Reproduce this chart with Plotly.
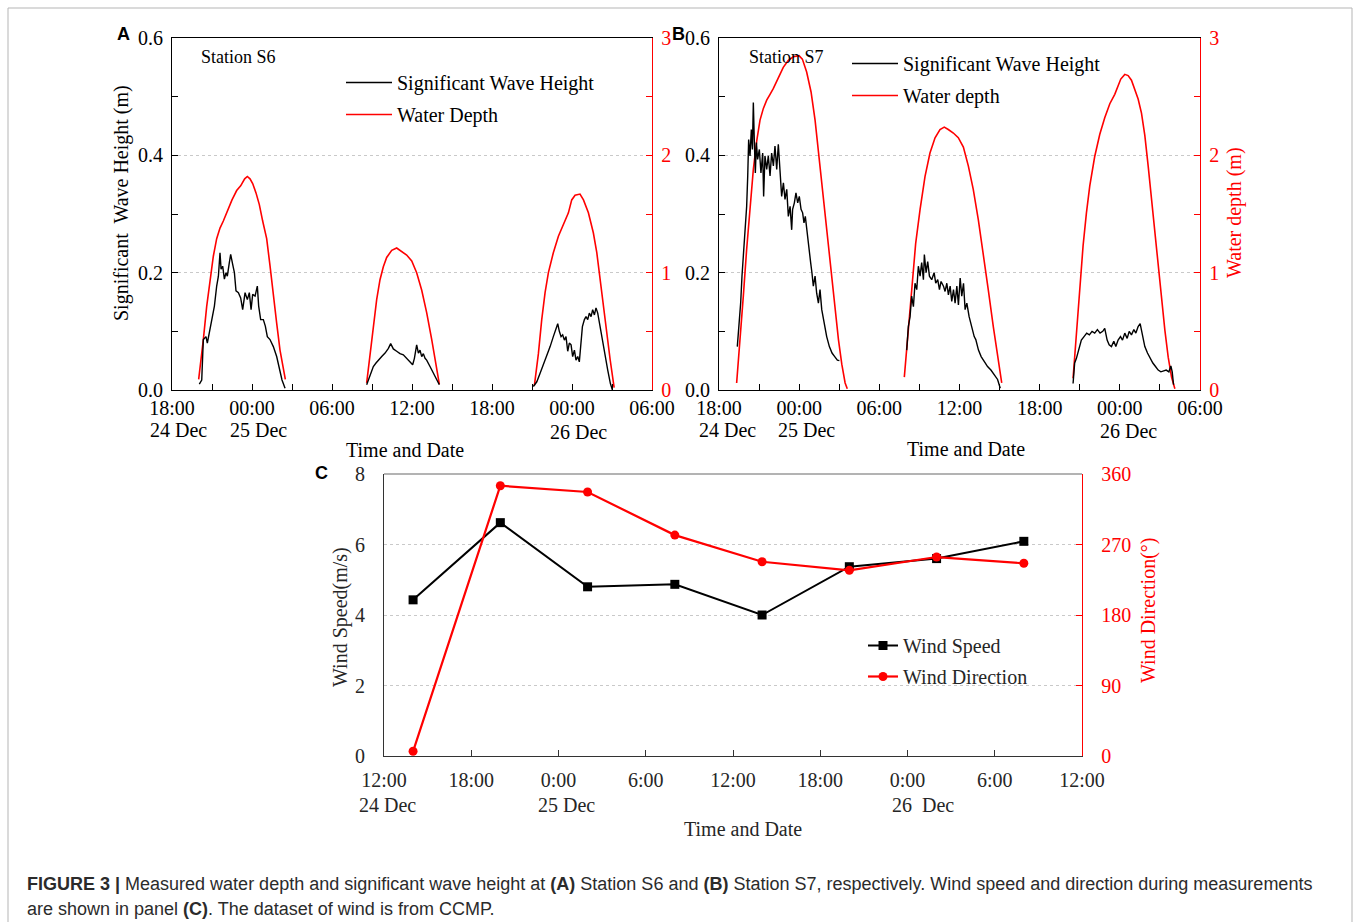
import plotly.graph_objects as go

W, H = 1360, 922


def fx(px):
    return px / W


def fy(py):
    return 1 - py / H


SERIF = "Liberation Serif"
SANS = "Liberation Sans"
RED = "#ff0000"

# ---- Station S6 (hours after 18:00, 24 Dec) ----
s6_wave_hours = [
    [2.05, 2.23, 2.35, 2.55, 2.65, 2.80, 2.98, 3.18, 3.35, 3.48, 3.60, 3.68, 3.80, 3.93,
     4.05, 4.15, 4.30, 4.40, 4.55, 4.68, 4.80, 4.98, 5.15, 5.30, 5.48, 5.65, 5.80, 5.93,
     6.05, 6.23, 6.40, 6.50, 6.65, 6.85, 7.00, 7.15, 7.35, 7.60, 7.85, 8.05, 8.25, 8.48],
    [14.6, 14.85, 15.1, 15.3, 15.47, 15.73, 15.98, 16.23, 16.4, 16.6, 16.85, 17.1, 17.35,
     17.6, 17.85, 18.05, 18.18, 18.35, 18.48, 18.6, 18.73, 18.85, 18.98, 19.1, 19.35,
     19.6, 19.85, 20.05],
    [27.1, 27.36, 27.6, 27.86, 28.1, 28.36, 28.6, 28.78, 28.93, 29.05, 29.18, 29.3, 29.43,
     29.55, 29.68, 29.8, 29.93, 30.05, 30.18, 30.3, 30.43, 30.55, 30.68, 30.78, 30.93,
     31.05, 31.18, 31.3, 31.43, 31.55, 31.68, 31.8, 31.93, 32.1, 32.28, 32.48, 32.68,
     32.88, 33.03],
]
s6_wave_height = [
    [0.010, 0.017, 0.086, 0.091, 0.080, 0.097, 0.120, 0.143, 0.177, 0.194, 0.234, 0.206,
     0.211, 0.189, 0.200, 0.194, 0.217, 0.231, 0.214, 0.200, 0.169, 0.166, 0.157, 0.137,
     0.166, 0.154, 0.166, 0.137, 0.163, 0.160, 0.177, 0.143, 0.120, 0.120, 0.109, 0.091,
     0.086, 0.074, 0.057, 0.034, 0.017, 0.003],
    [0.009, 0.023, 0.040, 0.046, 0.051, 0.057, 0.063, 0.071, 0.079, 0.070, 0.066, 0.062,
     0.060, 0.054, 0.048, 0.043, 0.054, 0.077, 0.063, 0.068, 0.057, 0.062, 0.054, 0.051,
     0.040, 0.029, 0.017, 0.009],
    [0.006, 0.014, 0.028, 0.043, 0.057, 0.074, 0.091, 0.103, 0.113, 0.100, 0.091, 0.094,
     0.085, 0.091, 0.066, 0.080, 0.077, 0.057, 0.068, 0.051, 0.057, 0.048, 0.080, 0.108,
     0.120, 0.125, 0.120, 0.131, 0.125, 0.137, 0.128, 0.140, 0.131, 0.108, 0.091, 0.063,
     0.034, 0.011, 0.0],
]
s6_depth_hours = [
    [2.0, 2.15, 2.35, 2.6, 2.85, 3.1, 3.35, 3.6, 3.85, 4.15, 4.5, 4.85, 5.15, 5.45, 5.65,
     5.85, 6.05, 6.3, 6.55, 6.8, 7.1, 7.35, 7.6, 7.85, 8.1, 8.35, 8.5],
    [14.6, 14.85, 15.1, 15.35, 15.6, 15.85, 16.1, 16.48, 16.85, 17.23, 17.6, 17.98, 18.35,
     18.73, 19.1, 19.48, 19.8, 20.05],
    [27.18, 27.48, 27.73, 27.98, 28.23, 28.6, 28.98, 29.35, 29.73, 29.98, 30.23, 30.6,
     30.86, 31.23, 31.6, 31.86, 32.1, 32.36, 32.6, 32.86, 33.16],
]
s6_depth = [
    [0.09, 0.23, 0.43, 0.71, 0.94, 1.14, 1.29, 1.38, 1.44, 1.53, 1.62, 1.70, 1.74, 1.80,
     1.82, 1.80, 1.76, 1.68, 1.58, 1.44, 1.29, 1.06, 0.80, 0.57, 0.34, 0.17, 0.09],
    [0.06, 0.28, 0.54, 0.77, 0.94, 1.05, 1.13, 1.19, 1.21, 1.18, 1.15, 1.10, 1.00, 0.85,
     0.66, 0.43, 0.23, 0.05],
    [0.04, 0.31, 0.60, 0.83, 1.00, 1.17, 1.31, 1.41, 1.51, 1.62, 1.66, 1.67, 1.62, 1.51,
     1.34, 1.17, 0.94, 0.71, 0.48, 0.26, 0.02],
]

# ---- Station S7 (hours after 18:00, 24 Dec) ----
s7_wave_hours = [
    [1.37, 1.52, 1.62, 1.72, 1.82, 1.87, 1.97, 2.07, 2.15, 2.22, 2.32, 2.42, 2.5, 2.57,
     2.64, 2.72, 2.8, 2.89, 3.02, 3.14, 3.27, 3.34, 3.44, 3.57, 3.69, 3.82, 3.94, 4.07,
     4.19, 4.32, 4.44, 4.57, 4.69, 4.82, 4.94, 5.07, 5.19, 5.32, 5.44, 5.51, 5.64, 5.76,
     5.89, 6.01, 6.14, 6.26, 6.36, 6.46, 6.56, 6.66, 6.76, 6.86, 6.96, 7.06, 7.19, 7.31,
     7.44, 7.56, 7.69, 7.81, 7.93, 8.06, 8.26, 8.46, 8.66, 8.86, 9.01],
    [14.05, 14.17, 14.3, 14.42, 14.55, 14.67, 14.8, 14.92, 15.05, 15.17, 15.3, 15.37,
     15.5, 15.62, 15.75, 15.92, 16.1, 16.22, 16.37, 16.5, 16.62, 16.8, 16.92, 17.05,
     17.17, 17.3, 17.42, 17.55, 17.67, 17.8, 17.92, 18.05, 18.17, 18.3, 18.42, 18.55,
     18.72, 18.92, 19.1, 19.22, 19.42, 19.62, 19.85, 20.1, 20.35, 20.6, 20.85, 21.05],
    [26.5, 26.62, 26.75, 26.92, 27.12, 27.32, 27.52, 27.72, 27.92, 28.12, 28.32, 28.52,
     28.72, 28.87, 29.05, 29.2, 29.37, 29.55, 29.7, 29.87, 30.05, 30.2, 30.37, 30.55,
     30.7, 30.87, 31.05, 31.2, 31.37, 31.52, 31.67, 31.87, 32.07, 32.27, 32.47, 32.67,
     32.87, 33.07, 33.27, 33.47, 33.67, 33.82, 33.92, 34.02],
]
s7_wave_height = [
    [0.074, 0.114, 0.148, 0.194, 0.228, 0.245, 0.273, 0.313, 0.365, 0.427, 0.399, 0.444,
     0.410, 0.490, 0.427, 0.370, 0.422, 0.393, 0.410, 0.370, 0.404, 0.330, 0.399, 0.376,
     0.399, 0.365, 0.404, 0.382, 0.416, 0.376, 0.419, 0.370, 0.330, 0.353, 0.325, 0.342,
     0.296, 0.313, 0.273, 0.308, 0.319, 0.336, 0.319, 0.330, 0.308, 0.302, 0.285, 0.296,
     0.273, 0.251, 0.239, 0.217, 0.199, 0.177, 0.194, 0.165, 0.148, 0.171, 0.137, 0.120,
     0.108, 0.091, 0.074, 0.063, 0.057, 0.051, 0.050],
    [0.068, 0.108, 0.125, 0.160, 0.142, 0.182, 0.171, 0.211, 0.194, 0.217, 0.188, 0.231,
     0.200, 0.219, 0.194, 0.188, 0.200, 0.182, 0.188, 0.171, 0.185, 0.177, 0.168, 0.182,
     0.162, 0.177, 0.151, 0.171, 0.148, 0.177, 0.145, 0.191, 0.160, 0.182, 0.137, 0.148,
     0.125, 0.108, 0.091, 0.086, 0.068, 0.057, 0.048, 0.040, 0.034, 0.026, 0.018, 0.003],
    [0.011, 0.046, 0.054, 0.068, 0.085, 0.091, 0.097, 0.094, 0.100, 0.097, 0.103, 0.097,
     0.100, 0.105, 0.085, 0.077, 0.074, 0.083, 0.074, 0.085, 0.091, 0.085, 0.097, 0.088,
     0.100, 0.094, 0.103, 0.097, 0.108, 0.113, 0.097, 0.074, 0.063, 0.054, 0.046, 0.040,
     0.034, 0.031, 0.033, 0.034, 0.031, 0.041, 0.031, 0.009],
]
s7_depth_hours = [
    [1.32, 1.57, 1.82, 2.07, 2.32, 2.57, 2.82, 3.07, 3.32, 3.57, 3.82, 4.07, 4.44, 4.81,
     5.19, 5.56, 5.99, 6.24, 6.56, 6.89, 7.19, 7.44, 7.69, 7.94, 8.19, 8.44, 8.69, 8.94,
     9.19, 9.44, 9.6],
    [13.87, 14.12, 14.42, 14.72, 15.05, 15.42, 15.79, 16.17, 16.54, 16.86, 17.16, 17.54,
     17.91, 18.29, 18.66, 19.03, 19.41, 19.78, 20.16, 20.53, 20.86, 21.16],
    [26.5, 26.75, 27.0, 27.25, 27.5, 27.75, 28.12, 28.5, 28.87, 29.25, 29.62, 29.82,
     30.07, 30.37, 30.62, 30.87, 31.12, 31.37, 31.62, 31.87, 32.12, 32.37, 32.62, 32.87,
     33.12, 33.37, 33.62, 33.87, 34.12],
]
s7_depth = [
    [0.06, 0.40, 0.80, 1.20, 1.57, 1.88, 2.12, 2.30, 2.40, 2.47, 2.52, 2.57, 2.66, 2.75,
     2.81, 2.84, 2.85, 2.82, 2.71, 2.54, 2.30, 2.03, 1.76, 1.50, 1.22, 0.95, 0.68, 0.43,
     0.22, 0.06, 0.01],
    [0.11, 0.46, 0.88, 1.25, 1.54, 1.82, 2.02, 2.15, 2.22, 2.24, 2.22, 2.19, 2.15, 2.07,
     1.91, 1.71, 1.45, 1.17, 0.85, 0.54, 0.28, 0.06],
    [0.10, 0.46, 0.88, 1.23, 1.51, 1.74, 1.99, 2.18, 2.32, 2.44, 2.52, 2.58, 2.65, 2.69,
     2.68, 2.64, 2.56, 2.48, 2.36, 2.17, 1.91, 1.62, 1.34, 1.05, 0.77, 0.51, 0.28, 0.11,
     0.01],
]

# ---- CCMP wind (hours after 00:00, 24 Dec) ----
wind_hours = [14, 20, 26, 32, 38, 44, 50, 56]
wind_speed = [4.43, 6.62, 4.80, 4.87, 4.00, 5.37, 5.60, 6.09]
wind_direction = [6, 345, 337, 282, 248, 237, 254, 246]

# tick labels
tide_tick_hours = [18, 24, 30, 36, 42, 48, 54]
tide_tick_text = ["18:00", "00:00", "06:00", "12:00", "18:00", "00:00", "06:00"]
wind_tick_hours = [12, 18, 24, 30, 36, 42, 48, 54, 60]
wind_tick_text = ["12:00", "18:00", "0:00", "6:00", "12:00", "18:00", "0:00", "6:00", "12:00"]

START_OFFSET = 18  # station records count hours from 18:00 on 24 Dec

fig = go.Figure()


def add_station(wave_t, wave_v, depth_t, depth_v, xa, ya_depth, ya_wave, legend, depth_name):
    for i, (t, d) in enumerate(zip(depth_t, depth_v)):
        fig.add_trace(go.Scatter(
            x=[h + START_OFFSET for h in t], y=d, mode="lines",
            line=dict(color=RED, width=1.6), name=depth_name,
            xaxis=xa, yaxis=ya_depth, legend=legend, legendgroup=legend + "d",
            legendrank=2, showlegend=(i == 0)))
    for i, (t, v) in enumerate(zip(wave_t, wave_v)):
        fig.add_trace(go.Scatter(
            x=[h + START_OFFSET for h in t], y=v, mode="lines",
            line=dict(color="black", width=1.4), name="Significant Wave Height",
            xaxis=xa, yaxis=ya_wave, legend=legend, legendgroup=legend + "w",
            legendrank=1, showlegend=(i == 0)))


add_station(s6_wave_hours, s6_wave_height, s6_depth_hours, s6_depth,
            "x", "y", "y2", "legend", "Water Depth")
add_station(s7_wave_hours, s7_wave_height, s7_depth_hours, s7_depth,
            "x2", "y3", "y4", "legend2", "Water depth")

fig.add_trace(go.Scatter(
    x=wind_hours, y=wind_speed, mode="lines+markers", name="Wind Speed",
    line=dict(color="black", width=2), marker=dict(symbol="square", size=9, color="black"),
    xaxis="x3", yaxis="y5", legend="legend3", legendgroup="ws"))
fig.add_trace(go.Scatter(
    x=wind_hours, y=wind_direction, mode="lines+markers", name="Wind Direction",
    line=dict(color=RED, width=2.2), marker=dict(symbol="circle", size=9, color=RED),
    xaxis="x3", yaxis="y6", legend="legend3", legendgroup="wd"))

tick_font = dict(family=SERIF, size=20, color="black")
red_font = dict(family=SERIF, size=20, color=RED)
grid = dict(showgrid=True, gridcolor="#c9c9c9", griddash="dot", gridwidth=1)

top_ab, bot_ab = fy(38), fy(390)


def tide_xaxis(x0, x1, anchor):
    return dict(domain=[fx(x0), fx(x1)], range=[18, 54], anchor=anchor,
                tickmode="array", tickvals=tide_tick_hours, ticktext=tide_tick_text,
                ticks="inside", ticklen=6, tickcolor="black",
                minor=dict(dtick=3, tick0=18, ticks="inside", ticklen=6, tickcolor="black"),
                showline=True, linecolor="black", linewidth=1.2, mirror=True,
                showgrid=False, zeroline=False, tickfont=tick_font, automargin=False)


def depth_yaxis(anchor):
    return dict(domain=[bot_ab, top_ab], range=[0, 3], anchor=anchor, side="right",
                tickmode="array", tickvals=[0, 1, 2, 3], ticktext=["0", "1", "2", "3"],
                ticks="inside", ticklen=6, tickcolor=RED,
                minor=dict(dtick=0.5, ticks="inside", ticklen=6, tickcolor=RED),
                showline=True, linecolor=RED, linewidth=1.4, zeroline=False,
                tickfont=red_font, ticklabelstandoff=4, automargin=False, **grid)


def wave_yaxis(over, anchor):
    return dict(overlaying=over, anchor=anchor, side="left", range=[0, 0.6],
                tickmode="array", tickvals=[0, 0.2, 0.4, 0.6],
                ticktext=["0.0", "0.2", "0.4", "0.6"],
                ticks="inside", ticklen=6, tickcolor="black",
                minor=dict(dtick=0.1, ticks="inside", ticklen=6, tickcolor="black"),
                showline=True, linecolor="black", linewidth=1.2, zeroline=False,
                showgrid=False, tickfont=tick_font, ticklabelstandoff=4, automargin=False)


c_font = dict(family=SERIF, size=20, color="#262626")
c_red = dict(family=SERIF, size=20, color=RED)

fig.update_layout(
    width=W, height=H, autosize=False,
    margin=dict(l=0, r=0, t=0, b=0, pad=0, autoexpand=False),
    paper_bgcolor="white", plot_bgcolor="white",
    font=dict(family=SERIF, color="black"),
    xaxis=tide_xaxis(172, 652, "y"),
    yaxis=depth_yaxis("x"),
    yaxis2=wave_yaxis("y", "x"),
    xaxis2=tide_xaxis(719, 1200, "y3"),
    yaxis3=depth_yaxis("x2"),
    yaxis4=wave_yaxis("y3", "x2"),
    xaxis3=dict(domain=[fx(384), fx(1082)], range=[12, 60], anchor="y5",
                tickmode="array", tickvals=wind_tick_hours, ticktext=wind_tick_text,
                ticks="inside", ticklen=6, tickcolor="#333",
                showline=True, linecolor="#333", linewidth=1.2, automargin=False,
                showgrid=False, zeroline=False, tickfont=c_font, ticklabelstandoff=6),
    yaxis5=dict(domain=[fy(756), fy(474)], range=[0, 8], anchor="x3",
                tickmode="array", tickvals=[0, 2, 4, 6, 8], automargin=False,
                ticks="", showline=True, linecolor="#333", linewidth=1.2,
                zeroline=False, tickfont=c_font, ticklabelstandoff=14, **grid),
    yaxis6=dict(overlaying="y5", anchor="x3", side="right", range=[0, 360],
                tickmode="array", tickvals=[0, 90, 180, 270, 360], automargin=False,
                ticks="inside", ticklen=6, tickcolor=RED,
                showline=True, linecolor=RED, linewidth=1.4, zeroline=False,
                showgrid=False, tickfont=c_red, ticklabelstandoff=14),
    legend=dict(x=fx(341), y=fy(63), xanchor="left", yanchor="top",
                bgcolor="rgba(0,0,0,0)", font=dict(family=SERIF, size=20, color="black"),
                traceorder="grouped", tracegroupgap=3, itemwidth=46),
    legend2=dict(x=fx(847), y=fy(44), xanchor="left", yanchor="top",
                 bgcolor="rgba(0,0,0,0)", font=dict(family=SERIF, size=20, color="black"),
                 traceorder="grouped", tracegroupgap=3, itemwidth=46),
    legend3=dict(x=fx(863), y=fy(626), xanchor="left", yanchor="top",
                 bgcolor="rgba(0,0,0,0)", font=dict(family=SERIF, size=20, color="#262626"),
                 traceorder="grouped", tracegroupgap=2, itemwidth=30),
)

# top edge of the wind panel and the outer figure frame
fig.add_shape(type="line", xref="paper", yref="paper", x0=fx(384), x1=fx(1082),
              y0=fy(474), y1=fy(474), line=dict(color="#9a9a9a", width=1.5))
fig.add_shape(type="rect", xref="paper", yref="paper", x0=fx(8), x1=fx(1352),
              y0=fy(940), y1=fy(8), line=dict(color="#b5b5b5", width=1))


def note(text, x, y, size=20, color="black", family=SERIF, angle=0, xanchor="center"):
    fig.add_annotation(text=text, x=fx(x), y=fy(y), xref="paper", yref="paper",
                       showarrow=False, xanchor=xanchor, yanchor="middle",
                       textangle=angle, font=dict(family=family, size=size, color=color))


# panel letters and station names
note("<b>A</b>", 123, 34, size=18, family=SANS)
note("<b>B</b>", 678, 34, size=18, family=SANS)
note("<b>C</b>", 321, 473, size=18, family=SANS)
note("Station S6", 199, 57, size=18, xanchor="left")
note("Station S7", 747, 57, size=18, xanchor="left")

# axis titles
note("Significant  Wave Height (m)", 122, 203, angle=-90)
note("Water depth (m)", 1234, 213, color=RED, angle=-90)
note("Time and Date", 405, 450)
note("Time and Date", 966, 449)
note("Wind Speed(m/s)", 340, 617, color="#262626", angle=-90)
note("Wind Direction(°)", 1148, 611, color=RED, angle=-90)
note("Time and Date", 743, 829, color="#262626")

# date lines under the clock ticks
for label, x, y in [("24 Dec", 178, 430), ("25 Dec", 258, 430), ("26 Dec", 578, 432),
                    ("24 Dec", 727, 430), ("25 Dec", 806, 430), ("26 Dec", 1128, 431)]:
    note(label, x, y)
for label, x in [("24 Dec", 387), ("25 Dec", 566), ("26&nbsp;&nbsp;Dec", 923)]:
    note(label, x, 805, color="#262626")

# caption
cap = "#2b2b2b"
note("<b>FIGURE 3 |</b> Measured water depth and significant wave height at <b>(A)</b> "
     "Station S6 and <b>(B)</b> Station S7, respectively. Wind speed and direction during "
     "measurements", 25, 884, size=18, family=SANS, color=cap, xanchor="left")
note("are shown in panel <b>(C)</b>. The dataset of wind is from CCMP.", 25, 909,
     size=18, family=SANS, color=cap, xanchor="left")

fig.write_html(
    "out.html",
    post_script="document.body.style.margin='0';document.body.style.overflow='hidden';",
)
